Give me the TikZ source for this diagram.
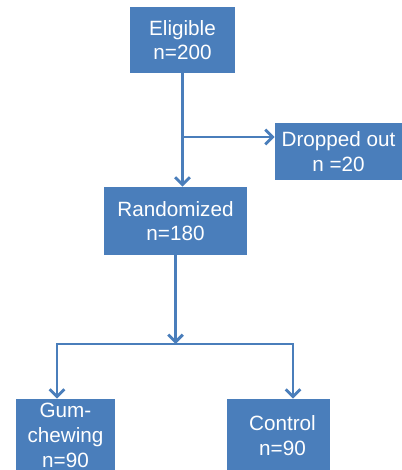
\documentclass[tikz,border=0pt]{standalone}
\usepackage{fontspec}
\setmainfont{Liberation Sans}
\usetikzlibrary{arrows.meta}
\definecolor{boxblue}{RGB}{74,126,187}

\begin{document}
\begin{tikzpicture}[x=0.75pt, y=-0.75pt, >={Straight Barb[length=5.5pt,width=11pt]},
    link/.style={draw=boxblue, line width=2.2pt},
    box/.style={fill=boxblue, text=white, inner sep=0pt, align=center,
                font=\fontsize{15.5}{18.5}\selectfont}]
    \useasboundingbox (0,0) rectangle (401,470);

    % Boxes {elig, drop, rand, gum, ctrl}
    \node [box, minimum width=78.75pt,  minimum height=49.5pt]  (elig) at (182.5,40)    {Eligible\\n=200};
    \node [box, minimum width=95.25pt,  minimum height=42.75pt] (drop) at (338.5,151.5) {Dropped out\\n =20};
    \node [box, minimum width=107.25pt, minimum height=51pt]    (rand) at (175.5,221)   {Randomized\\n=180};
    \node [box, minimum width=74.25pt,  minimum height=54.75pt] (gum)  at (65.5,435.5)  {Gum-\\chewing\\n=90};
    \node [box, minimum width=77.25pt,  minimum height=54.75pt] (ctrl) at (278.5,435.5) {\hspace*{6pt}Control\\\hspace*{6pt}n=90};

    % Branch points
    \coordinate (split) at (182.5,137);
    \coordinate (fork)  at (175.5,344);
    \coordinate (forkL) at (57,344);
    \coordinate (forkR) at (293,344);

    % Paths
    \draw [link, ->] (elig.south) -- (elig.south |- rand.north);
    \draw [link, ->] (split) -- (split -| drop.west);
    \draw [link, ->] (rand.south) -- (fork);
    \draw [link, ->] (fork) -- (forkL) -- (forkL |- gum.north);
    \draw [link, ->] (fork) -- (forkR) -- (forkR |- ctrl.north);
\end{tikzpicture}
\end{document}
